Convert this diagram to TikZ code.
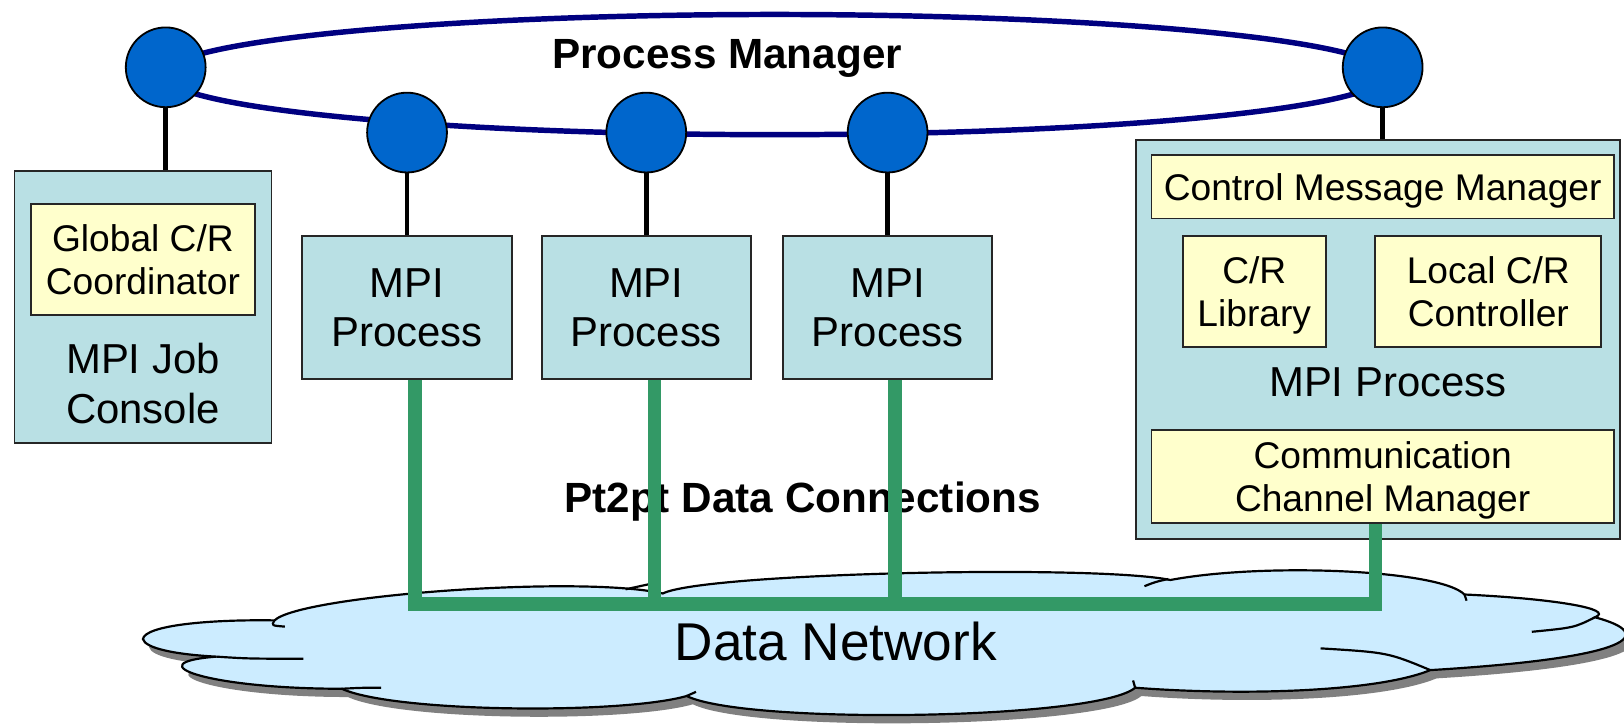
\documentclass[tikz,border=0pt]{standalone}
\usepackage{fontspec}
\setmainfont{Liberation Sans}
\usetikzlibrary{calc}
\definecolor{boxcyan}{RGB}{185,224,228}
\definecolor{boxyellow}{RGB}{255,255,204}
\definecolor{pmblue}{RGB}{0,102,204}
\definecolor{pmring}{RGB}{0,0,128}
\definecolor{linkgreen}{RGB}{51,153,102}
\definecolor{netblue}{RGB}{204,236,255}
\definecolor{netshadow}{RGB}{128,128,128}
\newcommand{\bigtxt}{\fontsize{11.5}{13.7}\selectfont}
\newcommand{\smalltxt}{\fontsize{10.2}{11.8}\selectfont}
\newcommand{\headtxt}{\fontsize{11.6}{13.9}\selectfont\bfseries}
\newcommand{\nettxt}{\fontsize{14.6}{17}\selectfont}

\begin{document}
\begin{tikzpicture}[x=0.01cm, y=-0.01cm,
  every node/.append style={text depth=0pt},
  procbox/.style={draw=black!85, line width=0.5pt, fill=boxcyan, inner sep=0pt, align=center, font=\bigtxt},
  partbox/.style={draw=black!85, line width=0.5pt, fill=boxyellow, inner sep=0pt, align=center, font=\smalltxt},
  pmnode/.style={circle, draw=black, line width=0.5pt, fill=pmblue, minimum size=0.77cm, inner sep=0pt},
  pmlink/.style={line width=1.3pt},
  datalink/.style={linkgreen, line width=3.8pt, line join=miter},
  cloud/.style={draw=black, line width=0.6pt, fill=netblue,
    preaction={fill=netshadow, transform canvas={shift={(6,8)}}}},
  cloudedge/.style={draw=black, line width=0.6pt}]
\useasboundingbox (0,0) rectangle (1568,700);

% process manager ring
\draw[pmring, line width=1.5pt] (748,72) ellipse [x radius=5.9cm, y radius=0.58cm];
\node[pmnode] (pm0) at (160,65) {};
\node[pmnode] (pm1) at (393,128) {};
\node[pmnode] (pm2) at (624,128) {};
\node[pmnode] (pm3) at (857,128) {};
\node[pmnode] (pm4) at (1335,65) {};
\node[font=\headtxt] (pmlabel) at (702,52) {Process Manager};

% job console
\node[procbox, minimum width=2.48cm, minimum height=2.63cm] (jobbox) at (138,296.5) {};
\node[partbox, minimum width=2.16cm, minimum height=1.07cm] (coord) at (138,250.5) {Global C/R\\Coordinator};
\node[align=center, font=\bigtxt] (joblabel) at (138,370) {MPI Job\\Console};

% plain MPI processes
\node[procbox, minimum width=2.02cm, minimum height=1.38cm] (p1) at (393,297) {MPI\\Process};
\node[procbox, minimum width=2.02cm, minimum height=1.38cm] (p2) at (624,297) {MPI\\Process};
\node[procbox, minimum width=2.02cm, minimum height=1.38cm] (p3) at (857,297) {MPI\\Process};

% detailed MPI process
\node[procbox, minimum width=4.67cm, minimum height=3.85cm] (rbox) at (1330.5,327.5) {};
\node[partbox, minimum width=4.46cm, minimum height=0.61cm] (cmm) at (1335,180.5) {Control Message Manager};
\node[partbox, minimum width=1.38cm, minimum height=1.07cm] (crlib) at (1211,281.5) {C/R\\Library};
\node[partbox, minimum width=2.18cm, minimum height=1.07cm] (lcrc) at (1437,281.5) {Local C/R\\Controller};
\node[font=\bigtxt] (rlabel) at (1340,369) {MPI Process};
\node[partbox, minimum width=4.46cm, minimum height=0.90cm] (comm) at (1335,460) {Communication\\Channel Manager};

% links to the ring
\draw[pmlink] (pm0.south) -- (pm0.south |- jobbox.north);
\draw[pmlink] (pm1) -- (p1);
\draw[pmlink] (pm2) -- (p2);
\draw[pmlink] (pm3) -- (p3);
\draw[pmlink] (pm4.south) -- (pm4.south |- rbox.north);

\node[font=\headtxt] (pt2pt) at (775,480) {Pt2pt Data Connections};

% data network cloud
\path[cloud] (138,617)
  .. controls (140,604) and (200,598) .. (265,599)
  .. controls (290,575) and (560,555) .. (640,573)
  .. controls (680,553) and (1060,545) .. (1130,560)
  .. controls (1220,543) and (1390,550) .. (1414,574)
  .. controls (1500,578) and (1560,588) .. (1540,596)
  .. controls (1600,612) and (1580,635) .. (1381,647)
  .. controls (1330,668) and (1200,672) .. (1096,664)
  .. controls (1060,695) and (720,700) .. (663,672)
  .. controls (600,690) and (380,688) .. (330,665)
  .. controls (200,665) and (130,640) .. (209,634)
  .. controls (170,632) and (140,626) .. (138,617) -- cycle;
\draw[cloudedge] (209,634) .. controls (240,636) .. (293,636);
\draw[cloudedge] (265,599) .. controls (262,604) .. (275,605);
\draw[cloudedge] (604,569) .. controls (620,565) .. (636,562);
\draw[cloudedge] (1105,566) .. controls (1115,562) .. (1128,559);
\draw[cloudedge] (1414,574) -- (1416,580);
\draw[cloudedge] (1540,596) .. controls (1520,606) .. (1479,610);
\draw[cloudedge] (1381,647) .. controls (1340,630) .. (1275,626);
\draw[cloudedge] (1096,664) -- (1094,657);
\draw[cloudedge] (663,672) -- (672,668);
\draw[cloudedge] (330,665) .. controls (350,664) .. (368,664);

% pt2pt data connections
\coordinate (bus) at (0,583);
\coordinate (drop1) at ($(p1.south)+(8,0)$);
\coordinate (drop2) at ($(p2.south)+(8,0)$);
\coordinate (drop3) at ($(p3.south)+(7,0)$);
\coordinate (drop4) at ($(comm.south)+(-7,0)$);
\draw[datalink] (drop1) |- (drop4 |- bus) -- (drop4);
\draw[datalink] (drop2) -- (drop2 |- bus);
\draw[datalink] (drop3) -- (drop3 |- bus);

\node[font=\nettxt] (netlabel) at (807,619) {Data Network};
\end{tikzpicture}
\end{document}
